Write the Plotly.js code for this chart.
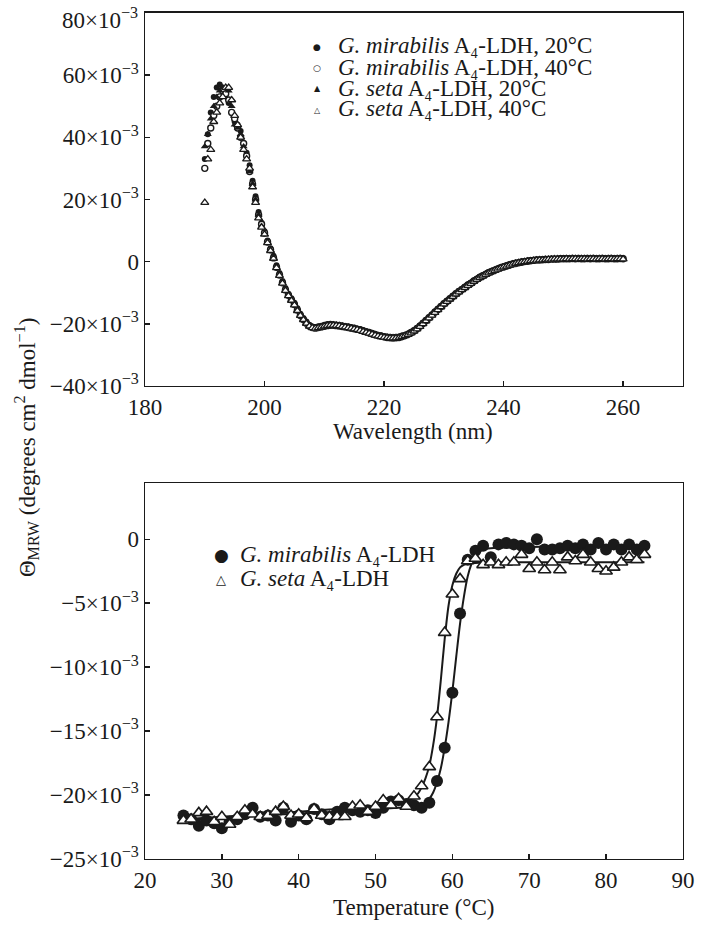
<!DOCTYPE html>
<html>
<head>
<meta charset="utf-8">
<script src="https://cdn.plot.ly/plotly-3.0.1.min.js"></script>
<style>html,body{margin:0;padding:0;background:#fff;}#chart{width:704px;height:926px;}</style>
</head>
<body>
<div id="chart"></div>
<script>
// ---------- Top panel: CD spectra (values in units of 10^-3) ----------
const wavelength = [
190,190.5,191,191.5,192,192.5,193,193.5,194,194.5,
195,195.5,196,196.5,197,197.5,198,198.5,199,199.5,
200,200.5,201,201.5,202,202.5,203,203.5,204,204.5,
205,205.5,206,206.5,207,207.5,208,208.5,209,209.5,
210,210.5,211,211.5,212,212.5,213,213.5,214,214.5,
215,215.5,216,216.5,217,217.5,218,218.5,219,219.5,
220,220.5,221,221.5,222,222.5,223,223.5,224,224.5,
225,225.5,226,226.5,227,227.5,228,228.5,229,229.5,
230,230.5,231,231.5,232,232.5,233,233.5,234,234.5,
235,235.5,236,236.5,237,237.5,238,238.5,239,239.5,
240,240.5,241,241.5,242,242.5,243,243.5,244,244.5,
245,245.5,246,246.5,247,247.5,248,248.5,249,249.5,
250,250.5,251,251.5,252,252.5,253,253.5,254,254.5,
255,255.5,256,256.5,257,257.5,258,258.5,259,259.5,
260];

const mirabilis20 = [
33,41,48,53,56,57,56,54,51,48,
45,44,42,38,35,31,26,21,16,12.5,
9.8,6.8,4.3,1.9,-1.2,-3.7,-6.2,-8.5,-10.3,-11.8,
-13.2,-15.0,-16.8,-18.1,-19.3,-20.3,-20.9,-21.0,-20.8,-20.6,
-20.3,-20.1,-20.0,-20.1,-20.2,-20.3,-20.5,-20.7,-20.8,-21.0,
-21.2,-21.5,-21.7,-22.0,-22.3,-22.6,-22.9,-23.2,-23.5,-23.7,
-23.9,-24.1,-24.2,-24.3,-24.2,-24.1,-23.8,-23.5,-23.1,-22.6,
-22.0,-21.3,-20.5,-19.6,-18.7,-17.8,-16.9,-16.0,-15.1,-14.2,
-13.3,-12.5,-11.7,-10.9,-10.1,-9.4,-8.7,-8.0,-7.3,-6.7,
-6.0,-5.4,-4.8,-4.3,-3.8,-3.3,-2.9,-2.5,-2.1,-1.7,
-1.4,-1.1,-0.8,-0.5,-0.3,-0.1,0.1,0.2,0.4,0.5,
0.6,0.7,0.7,0.8,0.9,0.9,1.0,1.0,1.0,1.1,
1.1,1.1,1.1,1.1,1.1,1.1,1.0,1.1,1.1,1.1,
1.1,1.0,1.1,1.1,1.1,1.0,1.1,1.1,1.0,1.1,
1.1];

const mirabilis40 = [
30,38,43,47,50,53,55,54,52,48,
46,43,40,38,34,29,25,20,15,12,
9.2,6.3,3.8,1.2,-1.8,-4.3,-6.8,-9.1,-10.8,-12.3,
-13.8,-15.6,-17.3,-18.6,-19.8,-20.7,-21.2,-21.4,-21.2,-21.0,
-20.8,-20.6,-20.5,-20.5,-20.6,-20.7,-20.9,-21.0,-21.2,-21.4,
-21.6,-21.8,-22.0,-22.3,-22.6,-22.9,-23.2,-23.5,-23.8,-24.0,
-24.2,-24.4,-24.5,-24.6,-24.5,-24.4,-24.1,-23.8,-23.4,-22.9,
-22.3,-21.6,-20.8,-19.9,-19.0,-18.1,-17.2,-16.3,-15.4,-14.5,
-13.6,-12.8,-12.0,-11.2,-10.4,-9.7,-9.0,-8.3,-7.6,-7.0,
-6.3,-5.7,-5.1,-4.6,-4.1,-3.6,-3.2,-2.8,-2.4,-2.0,
-1.7,-1.4,-1.1,-0.8,-0.6,-0.4,-0.2,0.0,0.1,0.3,
0.4,0.5,0.5,0.6,0.7,0.7,0.8,0.8,0.8,0.9,
0.9,0.9,0.9,1.0,0.9,1.0,0.9,0.9,1.0,0.9,
1.0,0.9,0.9,1.0,0.9,0.9,1.0,0.9,0.9,1.0,
0.9];

const seta20 = [
37,41,46,50,53,55,56,56,55,50,
44,43,41,37,33,29,25,20,15,11.5,
9.0,6.2,3.7,1.3,-1.7,-4.2,-6.7,-9.0,-10.6,-12.1,
-13.6,-15.4,-17.1,-18.4,-19.6,-20.6,-21.1,-21.3,-21.1,-20.9,
-20.6,-20.4,-20.3,-20.3,-20.4,-20.5,-20.7,-20.8,-21.0,-21.2,
-21.4,-21.7,-21.9,-22.2,-22.5,-22.8,-23.1,-23.4,-23.7,-23.9,
-24.1,-24.3,-24.4,-24.5,-24.4,-24.3,-24.0,-23.7,-23.3,-22.8,
-22.2,-21.5,-20.7,-19.8,-18.9,-18.0,-17.1,-16.2,-15.3,-14.4,
-13.5,-12.7,-11.9,-11.1,-10.3,-9.6,-8.9,-8.2,-7.5,-6.9,
-6.2,-5.6,-5.0,-4.5,-4.0,-3.5,-3.1,-2.7,-2.3,-1.9,
-1.6,-1.3,-1.0,-0.7,-0.5,-0.3,-0.1,0.1,0.2,0.4,
0.5,0.6,0.6,0.7,0.8,0.8,0.9,0.9,0.9,1.0,
1.0,1.0,1.0,1.0,1.1,1.0,1.0,1.0,1.1,1.0,
1.0,1.1,1.0,1.0,1.0,1.1,1.0,1.0,1.1,1.0,
1.0];

const seta40 = [
19,33,36,45,48,51,53,56,56,52,
47,44,40,36,33,30,24,19,14,11,
8.8,6.0,3.5,1.0,-2.0,-4.5,-7.0,-9.3,-11.0,-12.5,
-14.0,-15.8,-17.4,-18.7,-19.9,-20.8,-21.3,-21.5,-21.3,-21.1,
-20.8,-20.6,-20.5,-20.5,-20.6,-20.7,-20.9,-21.1,-21.3,-21.5,
-21.7,-21.9,-22.2,-22.5,-22.8,-23.1,-23.4,-23.7,-24.0,-24.2,
-24.4,-24.5,-24.6,-24.6,-24.6,-24.5,-24.2,-23.9,-23.5,-23.0,
-22.4,-21.7,-20.9,-20.0,-19.1,-18.2,-17.3,-16.4,-15.5,-14.6,
-13.7,-12.9,-12.1,-11.3,-10.5,-9.8,-9.1,-8.4,-7.7,-7.1,
-6.4,-5.8,-5.2,-4.7,-4.2,-3.7,-3.3,-2.9,-2.5,-2.1,
-1.8,-1.5,-1.2,-0.9,-0.6,-0.4,-0.2,-0.1,0.1,0.2,
0.3,0.4,0.5,0.5,0.6,0.7,0.7,0.8,0.8,0.8,
0.8,0.9,0.8,0.9,0.9,0.8,0.9,0.9,0.8,0.9,
0.9,0.8,0.9,0.9,0.8,0.9,0.9,0.8,0.9,0.9,
0.8];

// the top label (80×10⁻³) is placed as a text below the frame corner, as in the reference
const topTickVals = [-40,-20,0,20,40,60,80];
const topTickText = ["−40×10<sup>−3</sup>","−20×10<sup>−3</sup>","0","20×10<sup>−3</sup>","40×10<sup>−3</sup>","60×10<sup>−3</sup>",""];
const topTopLabel = "80×10<sup>−3</sup>";
const wlTickVals = [180,200,220,240,260];

// ---------- Bottom panel: thermal melts (values in units of 10^-3) ----------
const temperature = [
25,26,27,28,29,30,31,32,33,34,
35,36,37,38,39,40,41,42,43,44,
45,46,47,48,49,50,51,52,53,54,
55,56,57,58,59,60,61,62,63,64,
65,66,67,68,69,70,71,72,73,74,
75,76,77,78,79,80,81,82,83,84,
85];

const mirabilisMelt = [
-21.6,-21.9,-22.4,-22.0,-22.2,-22.6,-22.1,-21.9,-21.5,-21.0,
-21.7,-21.6,-22.0,-21.0,-22.1,-21.6,-21.9,-21.1,-21.5,-21.9,
-21.3,-21.0,-21.2,-21.3,-21.2,-21.4,-21.0,-20.5,-20.4,-20.7,
-20.8,-21.0,-20.6,-18.9,-16.3,-12.0,-5.8,-1.6,-0.9,-0.5,
-1.4,-0.4,-0.3,-0.4,-0.5,-0.7,0.0,-0.8,-0.8,-0.7,
-0.5,-0.7,-0.4,-0.8,-0.3,-0.8,-0.4,-0.8,-0.4,-0.8,
-0.5];

const setaMelt = [
-22.0,-21.9,-21.4,-21.3,-22.1,-21.7,-22.3,-21.7,-21.2,-21.5,
-21.7,-21.6,-21.3,-20.9,-21.6,-21.5,-21.8,-21.1,-21.6,-21.7,
-21.7,-21.7,-20.9,-20.8,-21.3,-20.9,-20.4,-20.8,-20.3,-20.9,
-20.1,-19.3,-17.8,-13.9,-7.3,-4.3,-3.1,-1.7,-1.5,-2.0,
-1.8,-2.0,-1.8,-1.8,-1.2,-2.3,-1.8,-2.4,-1.8,-2.4,
-1.4,-1.7,-1.2,-1.8,-2.3,-2.5,-2.2,-1.8,-1.4,-1.6,
-1.2];

// fitted curves
const mirabilisFitT = [25,30,35,40,45,50,53,55,56,56.5,57,57.5,58,58.5,59,59.5,60,60.5,61,61.5,62,62.5,63,63.5,64,65,70,75,80,85];
const mirabilisFitY = [-22.0,-21.8,-21.6,-21.45,-21.3,-21.1,-21.0,-20.9,-20.8,-20.6,-20.3,-19.8,-19.0,-17.9,-16.3,-14.3,-11.9,-9.2,-6.6,-4.5,-2.9,-1.9,-1.3,-1.0,-0.8,-0.7,-0.6,-0.6,-0.6,-0.6];
const setaFitT = [25,30,35,40,45,50,53,54,55,55.5,56,56.5,57,57.5,58,58.5,59,59.5,60,60.5,61,61.5,62,63,65,70,75,80,85];
const setaFitY = [-21.9,-21.7,-21.5,-21.3,-21.1,-20.9,-20.7,-20.5,-20.2,-19.9,-19.4,-18.7,-17.7,-16.1,-13.9,-11.0,-7.8,-5.2,-3.6,-2.7,-2.2,-2.0,-1.9,-1.85,-1.8,-1.8,-1.8,-1.8,-1.8];

const botTickVals = [-25,-20,-15,-10,-5,0];
const botTickText = ["−25×10<sup>−3</sup>","−20×10<sup>−3</sup>","−15×10<sup>−3</sup>","−10×10<sup>−3</sup>","−5×10<sup>−3</sup>","0"];
const tempTickVals = [20,30,40,50,60,70,80,90];

// ---------- Legend texts ----------
const topNames = [
  "<i>G. mirabilis</i> A₄-LDH, 20°C",
  "<i>G. mirabilis</i> A₄-LDH, 40°C",
  "<i>G. seta</i> A₄-LDH, 20°C",
  "<i>G. seta</i> A₄-LDH, 40°C"];
const topSymbols = ["●", "○", "▲", "△"];
const botNames = ["<i>G. mirabilis</i> A₄-LDH", "<i>G. seta</i> A₄-LDH"];
const botSymbols = ["●", "△"];

const INK = "#1a1a1a";
const FONT = "Liberation Serif, Times New Roman, serif";
const W = 704, H = 926;
const px = v => v / W, py = v => 1 - v / H;

const traces = [
  {x: wavelength, y: mirabilis20, name: topNames[0], type: "scatter", mode: "markers", xaxis: "x", yaxis: "y",
   marker: {symbol: "circle", size: 6, color: INK, line: {width: 0}}},
  {x: wavelength, y: mirabilis40, name: topNames[1], type: "scatter", mode: "markers", xaxis: "x", yaxis: "y",
   marker: {symbol: "circle", size: 6, color: "#ffffff", line: {width: 1.4, color: INK}}},
  {x: wavelength, y: seta20, name: topNames[2], type: "scatter", mode: "markers", xaxis: "x", yaxis: "y",
   marker: {symbol: "triangle-up", size: 7, color: INK, line: {width: 0}}},
  {x: wavelength, y: seta40, name: topNames[3], type: "scatter", mode: "markers", xaxis: "x", yaxis: "y",
   marker: {symbol: "triangle-up", size: 7, color: "#ffffff", line: {width: 1.3, color: INK}}},

  {x: mirabilisFitT, y: mirabilisFitY, type: "scatter", mode: "lines", xaxis: "x2", yaxis: "y2", hoverinfo: "skip",
   line: {color: INK, width: 2, shape: "spline", smoothing: 0.8}},
  {x: setaFitT, y: setaFitY, type: "scatter", mode: "lines", xaxis: "x2", yaxis: "y2", hoverinfo: "skip",
   line: {color: INK, width: 2, shape: "spline", smoothing: 0.8}},
  {x: temperature, y: mirabilisMelt, name: botNames[0], type: "scatter", mode: "markers", xaxis: "x2", yaxis: "y2",
   marker: {symbol: "circle", size: 12, color: INK, line: {width: 0}}},
  {x: temperature, y: setaMelt, name: botNames[1], type: "scatter", mode: "markers", xaxis: "x2", yaxis: "y2",
   marker: {symbol: "triangle-up", size: 11, color: "#ffffff", line: {width: 1.6, color: INK}}}
];

const axisBase = {
  showline: true, mirror: true, linecolor: INK, linewidth: 1.5,
  ticks: "inside", ticklen: 5, tickwidth: 1.5, tickcolor: INK,
  showgrid: false, zeroline: false,
  tickfont: {family: FONT, size: 23, color: INK}
};

const annotations = [
  {text: "Wavelength (nm)", x: px(413), y: py(431), font: {family: FONT, size: 23, color: INK}, xanchor: "center", yanchor: "middle"},
  {text: "Temperature (°C)", x: px(413), y: py(907), font: {family: FONT, size: 23, color: INK}, xanchor: "center", yanchor: "middle"},
  {text: "Θ<sub>MRW</sub> (degrees cm<sup>2</sup> dmol<sup>−1</sup>)", x: px(27), y: py(448), textangle: -90,
   font: {family: FONT, size: 23, color: INK}, xanchor: "center", yanchor: "middle"},
  {text: topTopLabel, x: px(140), y: py(19), font: {family: FONT, size: 23, color: INK}, xanchor: "right", yanchor: "middle"}
];
const topRowY = [46, 67, 88, 109];
const topSymSize = [9, 9, 8, 8];
topNames.forEach((t, i) => {
  annotations.push({text: t, x: px(336), y: py(topRowY[i]), xanchor: "left", yanchor: "middle",
                    font: {family: FONT, size: 23, color: INK}});
  annotations.push({text: topSymbols[i], x: px(317), y: py(topRowY[i] + 1), xanchor: "center", yanchor: "middle",
                    font: {family: "DejaVu Sans", size: topSymSize[i], color: INK}});
});
const botRowY = [554, 578];
const botSymSize = [17, 13];
botNames.forEach((t, i) => {
  annotations.push({text: t, x: px(238), y: py(botRowY[i]), xanchor: "left", yanchor: "middle",
                    font: {family: FONT, size: 23, color: INK}});
  annotations.push({text: botSymbols[i], x: px(221), y: py(botRowY[i] + 1), xanchor: "center", yanchor: "middle",
                    font: {family: "DejaVu Sans", size: botSymSize[i], color: INK}});
});
annotations.forEach(a => { a.xref = "paper"; a.yref = "paper"; a.showarrow = false; });

const layout = {
  width: W, height: H,
  margin: {l: 0, r: 0, t: 0, b: 0},
  paper_bgcolor: "#ffffff", plot_bgcolor: "#ffffff",
  font: {family: FONT, color: INK},
  showlegend: false,
  xaxis: Object.assign({}, axisBase, {domain: [0.206, 0.970], anchor: "y", range: [180, 270], tickvals: wlTickVals}),
  yaxis: Object.assign({}, axisBase, {domain: [0.5832, 0.986], anchor: "x", range: [-40, 80], tickvals: topTickVals, ticktext: topTickText}),
  xaxis2: Object.assign({}, axisBase, {domain: [0.206, 0.970], anchor: "y2", range: [20, 90], tickvals: tempTickVals}),
  yaxis2: Object.assign({}, axisBase, {domain: [0.0724, 0.4784], anchor: "x2", range: [-25, 4.4], tickvals: botTickVals, ticktext: botTickText}),
  annotations: annotations
};

Plotly.newPlot("chart", traces, layout, {displayModeBar: false, staticPlot: true});
</script>
</body>
</html>
